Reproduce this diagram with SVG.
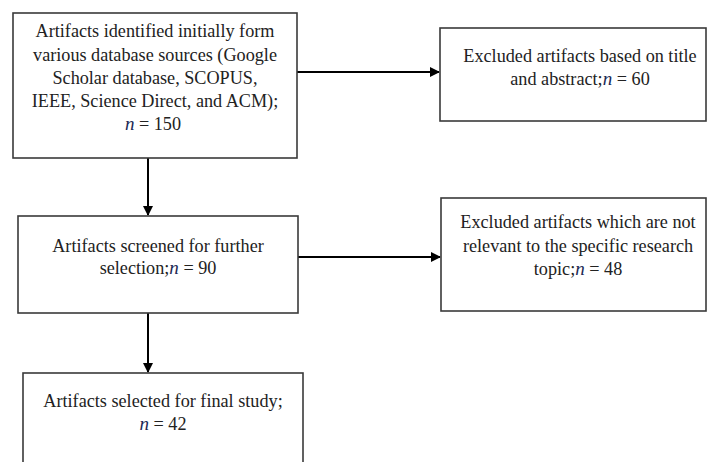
<svg xmlns="http://www.w3.org/2000/svg" width="708" height="462" viewBox="0 0 708 462">
<defs>
<marker id="arr" markerWidth="10" markerHeight="10" refX="9" refY="5" orient="auto" markerUnits="userSpaceOnUse">
<path d="M0,0 L10,5 L0,10 Z" fill="#000"/>
</marker>
<style>
.box{fill:#fff;stroke:#3a3a3a;stroke-width:1.6}
.t{font-family:'Liberation Serif','DejaVu Serif',serif;font-size:18.2px;fill:#222;text-anchor:middle}
.n{font-style:italic;fill:#1c2a55;font-size:19px}
.c{stroke:#000;stroke-width:2;fill:none}
</style>
</defs>
<rect width="708" height="462" fill="#fff"/>
<g id="connectors">
<line class="c" x1="297" y1="72" x2="439" y2="72" marker-end="url(#arr)"/>
<line class="c" x1="148" y1="158" x2="148" y2="215" marker-end="url(#arr)"/>
<line class="c" x1="298" y1="257" x2="440" y2="257" marker-end="url(#arr)"/>
<line class="c" x1="148" y1="313" x2="148" y2="372" marker-end="url(#arr)"/>
</g>
<g id="node-identified">
<rect class="box" x="13" y="13" width="284" height="145"/>
<text class="t" x="155" y="37" font-family="Liberation Serif, serif">Artifacts identified initially form</text>
<text class="t" x="155" y="61" font-family="Liberation Serif, serif">various database sources (Google</text>
<text class="t" x="155" y="84" font-family="Liberation Serif, serif">Scholar database, SCOPUS,</text>
<text class="t" x="155" y="107" font-family="Liberation Serif, serif">IEEE, Science Direct, and ACM);</text>
<text class="t" x="153" y="130" font-family="Liberation Serif, serif"><tspan class="n">n</tspan> = 150</text>
</g>
<g id="node-excluded1">
<rect class="box" x="440" y="28" width="266" height="93"/>
<text class="t" x="580" y="62" font-family="Liberation Serif, serif">Excluded artifacts based on title</text>
<text class="t" x="580" y="85" font-family="Liberation Serif, serif">and abstract;<tspan class="n">n</tspan> = 60</text>
</g>
<g id="node-screened">
<rect class="box" x="18" y="216" width="280" height="97"/>
<text class="t" x="158" y="252" font-family="Liberation Serif, serif">Artifacts screened for further</text>
<text class="t" x="158" y="274" font-family="Liberation Serif, serif">selection;<tspan class="n">n</tspan> = 90</text>
</g>
<g id="node-excluded2">
<rect class="box" x="441" y="198" width="265" height="113"/>
<text class="t" x="578" y="228" font-family="Liberation Serif, serif">Excluded artifacts which are not</text>
<text class="t" x="578" y="252" font-family="Liberation Serif, serif">relevant to the specific research</text>
<text class="t" x="578" y="275" font-family="Liberation Serif, serif">topic;<tspan class="n">n</tspan> = 48</text>
</g>
<g id="node-final">
<rect class="box" x="23" y="373" width="280" height="100"/>
<text class="t" x="163" y="407" font-family="Liberation Serif, serif">Artifacts selected for final study;</text>
<text class="t" x="163" y="430" font-family="Liberation Serif, serif"><tspan class="n">n</tspan> = 42</text>
</g>
</svg>
